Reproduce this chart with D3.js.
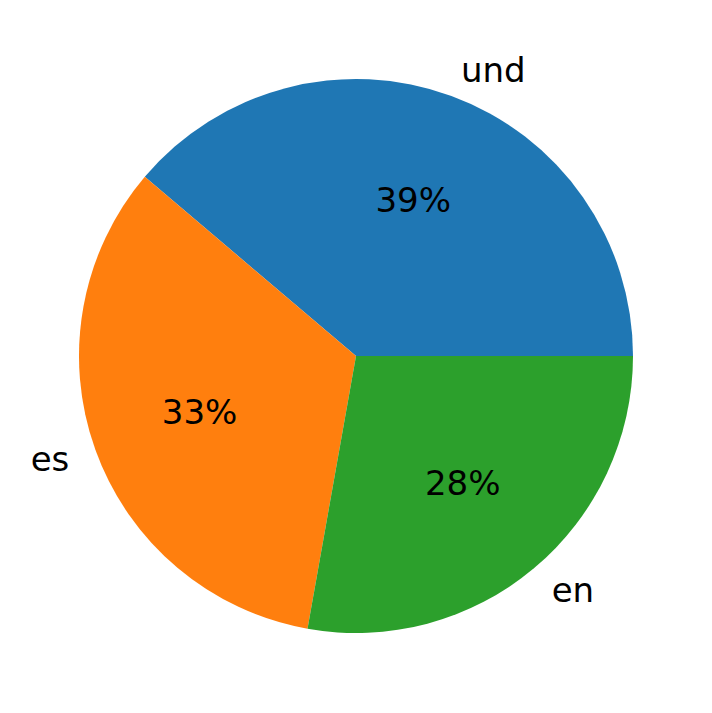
<!DOCTYPE html>
<html><head><meta charset="utf-8">
<script src="https://cdn.jsdelivr.net/npm/d3@7"></script>
<style>body{margin:0;background:#fff}svg{display:block}</style>
</head><body>
<script>
const categories = ["und", "es", "en"];
const values = [38.8, 33.4, 27.8];
const colors = ["#1f77b4", "#ff7f0e", "#2ca02c"];

const W = 712, H = 713, cx = 356, cy = 356, R = 277;
const svg = d3.select("body").append("svg").attr("width", W).attr("height", H);
const g = svg.append("g").attr("transform", `translate(${cx},${cy})`);

const total = d3.sum(values);
// matplotlib: start at 3 o'clock, counterclockwise
const pie = d3.pie().sort(null).value(d => d)
  .startAngle(Math.PI / 2).endAngle(Math.PI / 2 - 2 * Math.PI);
const arcs = pie(values);
const arc = d3.arc().innerRadius(0).outerRadius(R);

g.selectAll("path").data(arcs).join("path")
  .attr("d", arc).attr("fill", (d, i) => colors[i]);

const font = "'DejaVu Sans', sans-serif";
arcs.forEach((a, i) => {
  const mid = (a.startAngle + a.endAngle) / 2; // d3 angle: 0 at top, clockwise
  const sx = Math.sin(mid), sy = -Math.cos(mid);
  const lx = 1.1 * R * sx, ly = 1.1 * R * sy;
  g.append("text").attr("x", lx).attr("y", ly)
    .attr("text-anchor", lx > 0 ? "start" : "end")
    .attr("dominant-baseline", "central")
    .style("font-family", font).style("font-size", "34px").attr("fill", "#000")
    .text(categories[i]);
  const px = 0.6 * R * sx, py = 0.6 * R * sy;
  g.append("text").attr("x", px).attr("y", py)
    .attr("text-anchor", "middle")
    .attr("dominant-baseline", "central")
    .style("font-family", font).style("font-size", "34px").attr("fill", "#000")
    .text(Math.round(values[i] / total * 100) + "%");
});
</script>
</body></html>
